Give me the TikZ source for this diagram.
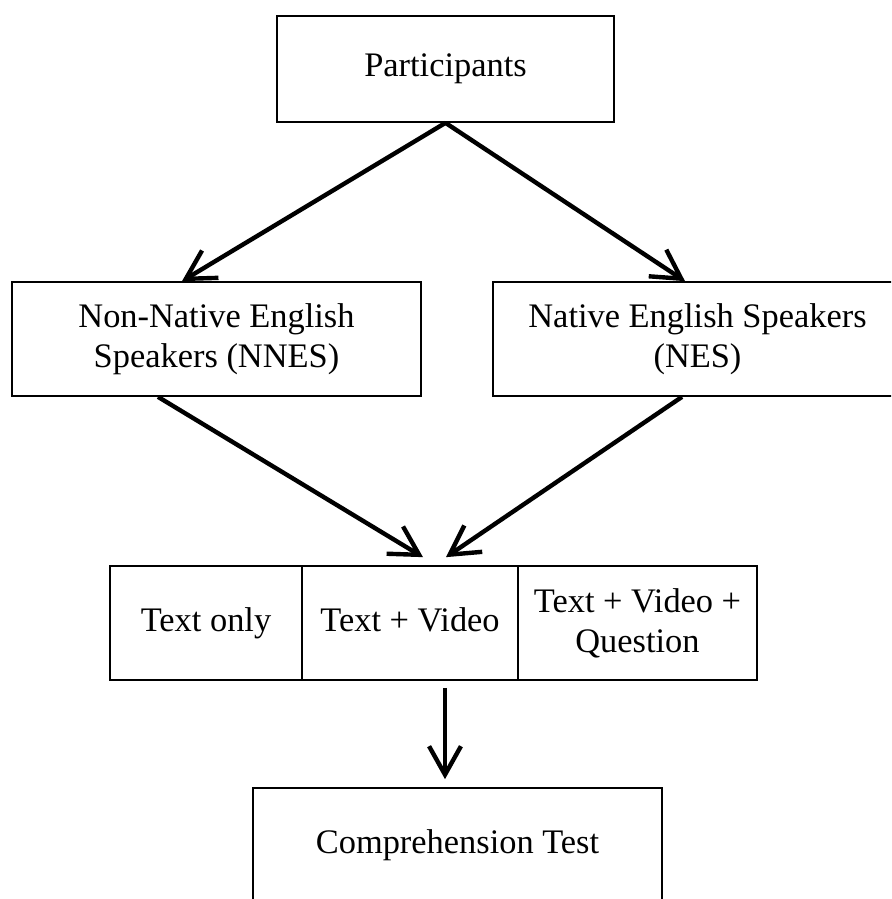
\documentclass[tikz,border=0pt]{standalone}
\usepackage{fontspec}
\setmainfont{Liberation Serif}
\usepackage{tikz}
\usetikzlibrary{positioning,arrows.meta}
\tikzset{
  flowarrow/.style={-{Straight Barb[length=5mm, width=5.6mm]}, line width=2.2pt},
  stepbox/.style={draw, line width=0.85pt, minimum width=204.5pt, minimum height=57pt, align=center, inner sep=2pt},
  topbox/.style={draw, line width=0.85pt, minimum width=168.5pt, minimum height=53pt, align=center},
  condbox/.style={draw, line width=0.85pt, minimum height=57pt, align=center, inner sep=2pt}
}

\begin{document}
\begin{tikzpicture}[every node/.style={font=\fontsize{17.2}{20}\selectfont}]
      \useasboundingbox (0,0) rectangle (445.5pt,-449.5pt);
      \clip (0,0) rectangle (445.5pt,-449.5pt);
      % groups
      \node[topbox] (part) at (222.75pt,-34.5pt) {\strut Participants};
      \node[stepbox] (nnes) at (108.25pt,-169.5pt) {Non-Native English\\Speakers (NNES)};
      \node[stepbox] (nes) at (348.75pt,-169.5pt) {Native English Speakers\\(NES)};
      % conditions
      \node[condbox, minimum width=96pt] (txt) at (103pt,-311.5pt) {\strut Text only};
      \node[condbox, minimum width=108pt] (vid) at (205pt,-311.5pt) {\strut Text + Video};
      \node[condbox, minimum width=119.5pt] (qst) at (318.75pt,-311.5pt) {Text + Video +\\Question};
      \node[stepbox] (test) at (228.75pt,-422.5pt) {\strut Comprehension Test};
      % arrows
      \draw[flowarrow] (part.south) -- ([xshift=-17.25pt]nnes.north);
      \draw[flowarrow] (part.south) -- ([xshift=-6.25pt]nes.north);
      \draw[flowarrow] ([xshift=-29.25pt]nnes.south) -- ([xshift=6.5pt,yshift=4pt]vid.north);
      \draw[flowarrow] ([xshift=-7.75pt]nes.south) -- ([xshift=18pt,yshift=4pt]vid.north);
      \draw[flowarrow] ([xshift=17.5pt,yshift=-3.5pt]vid.south) -- ([xshift=-6.25pt,yshift=4pt]test.north);
    \end{tikzpicture}
\end{document}
